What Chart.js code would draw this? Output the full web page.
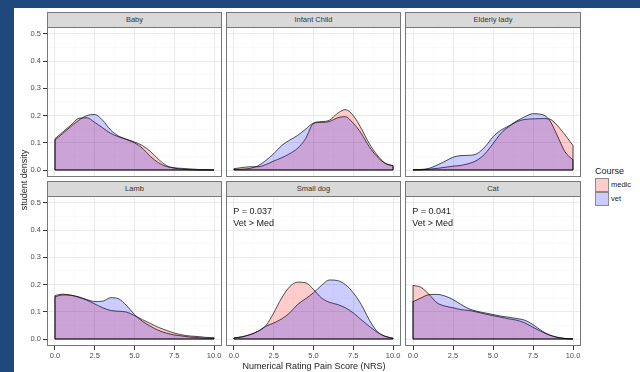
<!DOCTYPE html>
<html>
<head>
<meta charset="utf-8">
<script src="https://cdn.jsdelivr.net/npm/chart.js@4.4.1/dist/chart.umd.min.js"></script>
<style>
  body { margin: 0; background: #1f497d; width: 640px; height: 372px; overflow: hidden; font-family: "Liberation Sans", Arial, sans-serif; }
  #sheet { position: absolute; left: 14px; top: 8px; width: 626px; height: 364px; background: #fff; }
  canvas { position: absolute; }
  .strip { position: absolute; box-sizing: border-box; height: 16px; background: #d9d9d9; border: 1px solid #777;
           font-size: 7.5px; color: #333; text-align: center; line-height: 14px; }
  .txt { position: absolute; white-space: nowrap; color: #000; }
  .key { position: absolute; width: 14px; height: 14px; box-sizing: border-box; border: 1px solid #8a8a8a; }
</style>
</head>
<body>
<div id="sheet"></div>
<div id="page"></div>
<script>
// x grid the density was read at
const xs = [0, 0.5, 1, 1.5, 2, 2.5, 3, 3.5, 4, 4.5, 5, 5.5, 6, 6.5, 7, 7.5, 8, 8.5, 9, 9.5, 10];

const babyMedic   = [0.115, 0.14, 0.165, 0.19, 0.192, 0.175, 0.155, 0.135, 0.122, 0.113, 0.103, 0.09, 0.068, 0.04, 0.017, 0.007, 0.003, 0.001, 0, 0, 0];
const babyVet     = [0.11, 0.135, 0.16, 0.183, 0.2, 0.204, 0.183, 0.147, 0.125, 0.112, 0.1, 0.08, 0.05, 0.027, 0.013, 0.008, 0.006, 0.004, 0.002, 0.001, 0];
const infantMedic = [0.005, 0.009, 0.012, 0.012, 0.02, 0.033, 0.045, 0.06, 0.08, 0.115, 0.172, 0.178, 0.183, 0.208, 0.222, 0.2, 0.153, 0.098, 0.055, 0.025, 0.015];
const infantVet   = [0.002, 0.003, 0.006, 0.015, 0.035, 0.06, 0.09, 0.11, 0.127, 0.15, 0.172, 0.175, 0.178, 0.192, 0.196, 0.172, 0.135, 0.086, 0.049, 0.025, 0.016];
const elderMedic  = [0, 0.001, 0.003, 0.006, 0.01, 0.014, 0.017, 0.024, 0.036, 0.06, 0.097, 0.135, 0.16, 0.178, 0.186, 0.188, 0.189, 0.188, 0.165, 0.129, 0.09];
const elderVet    = [0.001, 0.002, 0.006, 0.018, 0.032, 0.047, 0.053, 0.054, 0.06, 0.085, 0.122, 0.147, 0.162, 0.181, 0.196, 0.207, 0.205, 0.186, 0.129, 0.067, 0.037];
const lambMedic   = [0.16, 0.165, 0.161, 0.153, 0.143, 0.129, 0.115, 0.105, 0.102, 0.099, 0.086, 0.071, 0.057, 0.043, 0.032, 0.022, 0.015, 0.011, 0.009, 0.006, 0.005];
const lambVet     = [0.155, 0.162, 0.161, 0.155, 0.145, 0.138, 0.139, 0.152, 0.148, 0.123, 0.09, 0.065, 0.047, 0.032, 0.022, 0.015, 0.011, 0.007, 0.005, 0.003, 0.002];
const dogMedic    = [0.004, 0.008, 0.016, 0.028, 0.049, 0.096, 0.151, 0.192, 0.209, 0.207, 0.182, 0.151, 0.135, 0.127, 0.115, 0.096, 0.071, 0.047, 0.025, 0.01, 0.003];
const dogVet      = [0.004, 0.008, 0.016, 0.028, 0.047, 0.059, 0.074, 0.096, 0.127, 0.148, 0.17, 0.197, 0.217, 0.215, 0.2, 0.17, 0.127, 0.071, 0.028, 0.01, 0.003];
const catMedic    = [0.197, 0.19, 0.164, 0.133, 0.121, 0.115, 0.108, 0.105, 0.099, 0.092, 0.086, 0.08, 0.074, 0.069, 0.059, 0.043, 0.028, 0.015, 0.006, 0.002, 0];
const catVet      = [0.137, 0.151, 0.163, 0.164, 0.158, 0.145, 0.127, 0.111, 0.102, 0.096, 0.09, 0.084, 0.08, 0.075, 0.069, 0.053, 0.032, 0.016, 0.007, 0.002, 0];

const panelNames = ['Baby', 'Infant Child', 'Elderly lady', 'Lamb', 'Small dog', 'Cat'];
const medicSeries = [babyMedic, infantMedic, elderMedic, lambMedic, dogMedic, catMedic];
const vetSeries = [babyVet, infantVet, elderVet, lambVet, dogVet, catVet];
const notes = { 4: ['P = 0.037', 'Vet > Med'], 5: ['P = 0.041', 'Vet > Med'] };

const xBreaks = [0, 2.5, 5, 7.5, 10];
const xTickLabels = ['0.0', '2.5', '5.0', '7.5', '10.0'];
const xMinor = [1.25, 3.75, 6.25, 8.75];
const yBreaks = [0, 0.1, 0.2, 0.3, 0.4, 0.5];
const yTickLabels = ['0.0', '0.1', '0.2', '0.3', '0.4', '0.5'];
const yMinor = [0.05, 0.15, 0.25, 0.35, 0.45];

const colLeft = [47, 226, 405];
const rowTop = [27, 196];
const panelW = 175, panelH = 150;
const yAxisW = 33, xAxisH = 24;

const page = document.getElementById('page');

function makeTicks(major, minor) {
  return major.map(v => ({ value: v })).concat(minor.map(v => ({ value: v, minor: true })))
    .sort((a, b) => a.value - b.value);
}

// stop chart.js from adding room for half labels at the ends
function noPad(s) {
  s.paddingLeft = 0; s.paddingRight = 0; s.paddingTop = 0; s.paddingBottom = 0;
}

const framePlugin = {
  id: 'frame',
  beforeDraw(chart) {
    const a = chart.chartArea, c = chart.ctx;
    c.save();
    c.fillStyle = '#fff';
    c.fillRect(a.left, a.top, a.right - a.left, a.bottom - a.top);
    c.restore();
  },
  afterDatasetsDraw(chart) {
    // close each density outline: end edges and the baseline
    const c = chart.ctx, sx = chart.scales.x, sy = chart.scales.y;
    c.save();
    c.strokeStyle = 'rgba(0,0,0,0.85)';
    c.lineWidth = 0.8;
    chart.data.datasets.forEach(ds => {
      const first = ds.data[0], last = ds.data[ds.data.length - 1];
      c.beginPath();
      c.moveTo(sx.getPixelForValue(first.x), sy.getPixelForValue(first.y));
      c.lineTo(sx.getPixelForValue(first.x), sy.getPixelForValue(0));
      c.lineTo(sx.getPixelForValue(last.x), sy.getPixelForValue(0));
      c.lineTo(sx.getPixelForValue(last.x), sy.getPixelForValue(last.y));
      c.stroke();
    });
    c.restore();
  },
  afterDraw(chart) {
    const a = chart.chartArea, c = chart.ctx;
    c.save();
    c.strokeStyle = '#777';
    c.lineWidth = 1;
    c.strokeRect(a.left + 0.5, a.top + 0.5, a.right - a.left - 1, a.bottom - a.top - 1);
    const lines = chart.options.plugins.frame.notes;
    if (lines) {
      c.fillStyle = '#222';
      c.font = '9px "Liberation Sans", Arial, sans-serif';
      c.textBaseline = 'middle';
      const x = chart.scales.x.getPixelForValue(-0.05);
      c.fillText(lines[0], x, chart.scales.y.getPixelForValue(0.467));
      c.fillText(lines[1], x, chart.scales.y.getPixelForValue(0.423));
    }
    c.restore();
  }
};

panelNames.forEach((name, i) => {
  const col = i % 3, row = Math.floor(i / 3);
  const showY = col === 0, showX = row === 1;
  const left = colLeft[col], top = rowTop[row];

  const strip = document.createElement('div');
  strip.className = 'strip';
  strip.style.left = left + 'px';
  strip.style.top = (top - 15) + 'px';
  strip.style.width = (col === 2 ? panelW + 1 : panelW) + 'px';
  strip.textContent = name;
  page.appendChild(strip);

  const cv = document.createElement('canvas');
  const w = panelW + (col === 2 ? 1 : 0) + (showY ? yAxisW : 0);
  const h = panelH + (showX ? xAxisH : 0);
  cv.width = w; cv.height = h;
  cv.style.left = (left - (showY ? yAxisW : 0)) + 'px';
  cv.style.top = top + 'px';
  page.appendChild(cv);

  const gridColor = ctx => ctx.tick && ctx.tick.minor ? '#f6f6f6' : '#ebebeb';
  const tickColor = ctx => ctx.tick && ctx.tick.minor ? 'rgba(0,0,0,0)' : '#333';

  new Chart(cv.getContext('2d'), {
    type: 'line',
    data: {
      datasets: [
        {
          label: 'medic',
          data: xs.map((x, k) => ({ x: x, y: medicSeries[i][k] })),
          backgroundColor: 'rgba(255,0,0,0.2)',
          order: 1
        },
        {
          label: 'vet',
          data: xs.map((x, k) => ({ x: x, y: vetSeries[i][k] })),
          backgroundColor: 'rgba(0,0,255,0.2)',
          order: 0
        }
      ]
    },
    options: {
      responsive: false,
      animation: false,
      devicePixelRatio: 1,
      events: [],
      layout: { padding: 0, autoPadding: false },
      elements: {
        point: { radius: 0 },
        line: { borderColor: 'rgba(0,0,0,0.85)', borderWidth: 0.8, fill: 'origin', cubicInterpolationMode: 'monotone' }
      },
      plugins: {
        legend: { display: false },
        tooltip: { enabled: false },
        frame: { notes: notes[i] }
      },
      scales: {
        x: {
          type: 'linear', min: -0.5, max: 10.5,
          afterBuildTicks: s => { s.ticks = makeTicks(xBreaks, xMinor); },
          afterFit: s => { s.height = showX ? xAxisH : 0; noPad(s); },
          border: { display: false },
          grid: { color: gridColor, lineWidth: ctx => ctx.tick && ctx.tick.minor ? 0.6 : 1,
                  drawTicks: showX, tickLength: 4, tickColor: tickColor, tickWidth: 1 },
          ticks: {
            display: showX, autoSkip: false, maxRotation: 0, padding: 1, color: '#4d4d4d',
            font: { size: 7.5, family: '"Liberation Sans", Arial, sans-serif' },
            callback: v => { const k = xBreaks.indexOf(v); return k < 0 ? '' : xTickLabels[k]; }
          }
        },
        y: {
          type: 'linear', min: -0.0257, max: 0.5257,
          afterBuildTicks: s => { s.ticks = makeTicks(yBreaks, yMinor); },
          afterFit: s => { s.width = showY ? yAxisW : 0; noPad(s); },
          border: { display: false },
          grid: { color: gridColor, lineWidth: ctx => ctx.tick && ctx.tick.minor ? 0.6 : 1,
                  drawTicks: showY, tickLength: 4, tickColor: tickColor, tickWidth: 1 },
          ticks: {
            display: showY, autoSkip: false, padding: 2, color: '#4d4d4d',
            font: { size: 7.5, family: '"Liberation Sans", Arial, sans-serif' },
            callback: v => { const k = yBreaks.findIndex(b => Math.abs(b - v) < 1e-9); return k < 0 ? '' : yTickLabels[k]; }
          }
        }
      }
    },
    plugins: [framePlugin]
  });
});

// axis titles and legend
function addText(str, css) {
  const d = document.createElement('div');
  d.className = 'txt';
  d.textContent = str;
  Object.assign(d.style, css);
  page.appendChild(d);
  return d;
}
addText('Numerical Rating Pain Score (NRS)', { left: '214px', top: '361px', width: '200px', textAlign: 'center', fontSize: '9px', color: '#222' });
addText('student density', { left: '-26px', top: '175px', width: '100px', textAlign: 'center', fontSize: '9px', color: '#222',
  transform: 'rotate(-90deg)', transformOrigin: '50% 50%', lineHeight: '10px' });
addText('Course', { left: '595px', top: '166px', fontSize: '9px', color: '#222' });

const legendLabels = ['medic', 'vet'];
const legendFills = ['rgb(255,204,204)', 'rgb(204,204,255)'];
legendLabels.forEach((lab, k) => {
  const box = document.createElement('div');
  box.className = 'key';
  box.style.left = '595px';
  box.style.top = (178 + k * 14) + 'px';
  box.style.background = legendFills[k];
  page.appendChild(box);
  addText(lab, { left: '611px', top: (180 + k * 14) + 'px', fontSize: '7.5px', color: '#222', lineHeight: '9px' });
});
</script>
</body>
</html>
